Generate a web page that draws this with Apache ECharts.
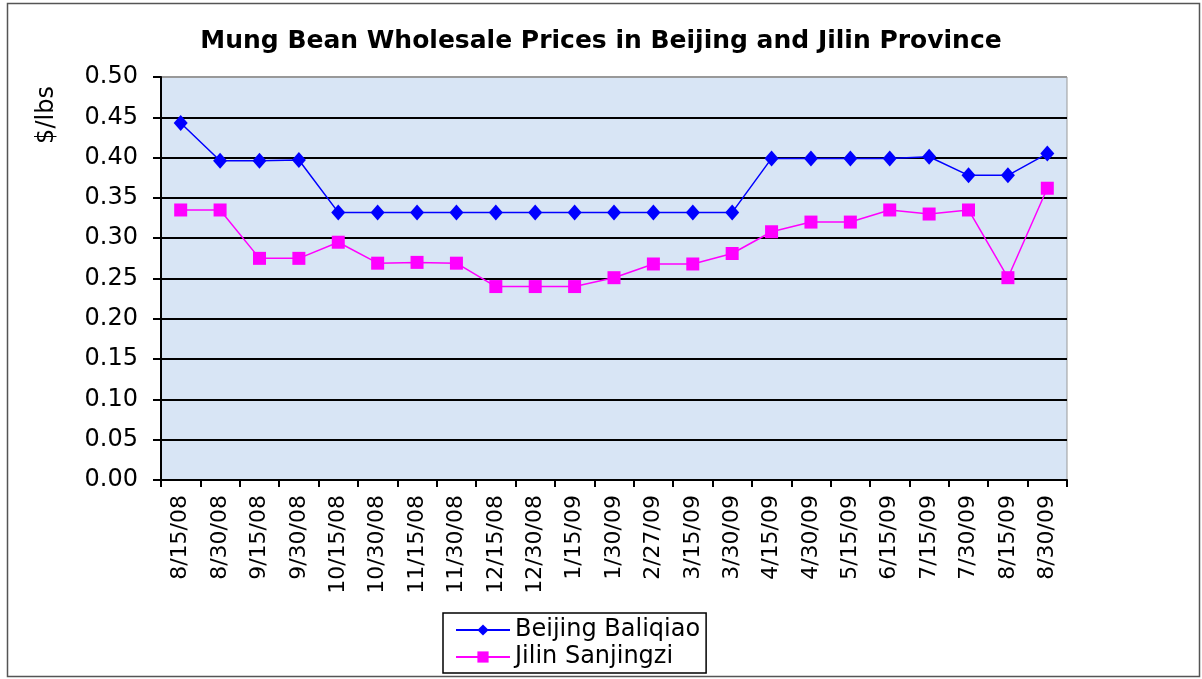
<!DOCTYPE html>
<html>
<head>
<meta charset="utf-8">
<script src="https://cdn.jsdelivr.net/npm/echarts@6/dist/echarts.min.js"></script>
<style>
html,body{margin:0;padding:0;background:#fff;}
#main{width:1202px;height:679px;}
</style>
</head>
<body>
<div id="main"></div>
<script>
var categories = ['8/15/08','8/30/08','9/15/08','9/30/08','10/15/08','10/30/08','11/15/08','11/30/08','12/15/08','12/30/08','1/15/09','1/30/09','2/27/09','3/15/09','3/30/09','4/15/09','4/30/09','5/15/09','6/15/09','7/15/09','7/30/09','8/15/09','8/30/09'];
var beijing = [0.443,0.396,0.396,0.397,0.332,0.332,0.332,0.332,0.332,0.332,0.332,0.332,0.332,0.332,0.332,0.399,0.399,0.399,0.399,0.401,0.378,0.378,0.405];
var jilin = [0.335,0.335,0.275,0.275,0.295,0.269,0.270,0.269,0.240,0.240,0.240,0.251,0.268,0.268,0.281,0.308,0.320,0.320,0.335,0.330,0.335,0.251,0.362];
var titleText = 'Mung Bean Wholesale Prices in Beijing and Jilin Province';
var yName = '$/lbs';

var chart = echarts.init(document.getElementById('main'));
var font = 'DejaVu Sans';
var gridColors = ['#000','#000','#000','#000','#000','#000','#000','#000','#000','#000','#999'];
chart.setOption({
  animation:false,
  backgroundColor:'#fff',
  title:{text:titleText,left:'center',top:24,textStyle:{fontFamily:font,fontSize:25,fontWeight:'bold',color:'#000'}},
  graphic:[
    {type:'rect',silent:true,z:-10,shape:{x:7.5,y:3.5,width:1192,height:673},style:{fill:'none',stroke:'#555',lineWidth:1.5}},
    {type:'text',silent:true,x:47,y:115,rotation:Math.PI/2,style:{text:yName,fontFamily:font,fontSize:24,fill:'#000',align:'center',verticalAlign:'middle'}}
  ],
  grid:{left:161,top:77,right:135,bottom:199,show:true,backgroundColor:'#d8e5f5',borderColor:'#999',borderWidth:1},
  legend:{left:443,top:613,orient:'vertical',backgroundColor:'#fff',borderColor:'#000',borderWidth:1.5,padding:[5,6,4,12],itemGap:3,itemWidth:54,itemHeight:14,textStyle:{fontFamily:font,fontSize:24,color:'#000'},data:['Beijing Baliqiao','Jilin Sanjingzi']},
  xAxis:{type:'category',data:categories,boundaryGap:true,
    axisLine:{lineStyle:{color:'#000',width:2}},
    axisTick:{show:true,length:7,lineStyle:{color:'#000',width:2},alignWithLabel:false},
    axisLabel:{rotate:90,interval:0,margin:15,fontFamily:font,fontSize:22,color:'#000'}},
  yAxis:{type:'value',min:0,max:0.5,interval:0.05,
    axisLine:{show:true,lineStyle:{color:'#000',width:2}},
    axisTick:{show:true,length:8,lineStyle:{color:'#000',width:2}},
    axisLabel:{formatter:function(v){return v.toFixed(2);},margin:23,fontFamily:font,fontSize:24,color:'#000'},
    splitLine:{show:true,lineStyle:{color:gridColors,width:2}}},
  series:[
    {name:'Beijing Baliqiao',type:'line',data:beijing,symbol:'diamond',symbolSize:[14,16],itemStyle:{color:'#0000ff'},lineStyle:{color:'#0000ff',width:1.5}},
    {name:'Jilin Sanjingzi',type:'line',data:jilin,symbol:'rect',symbolSize:13,itemStyle:{color:'#ff00ff'},lineStyle:{color:'#ff00ff',width:1.5}}
  ]
});
</script>
</body>
</html>
